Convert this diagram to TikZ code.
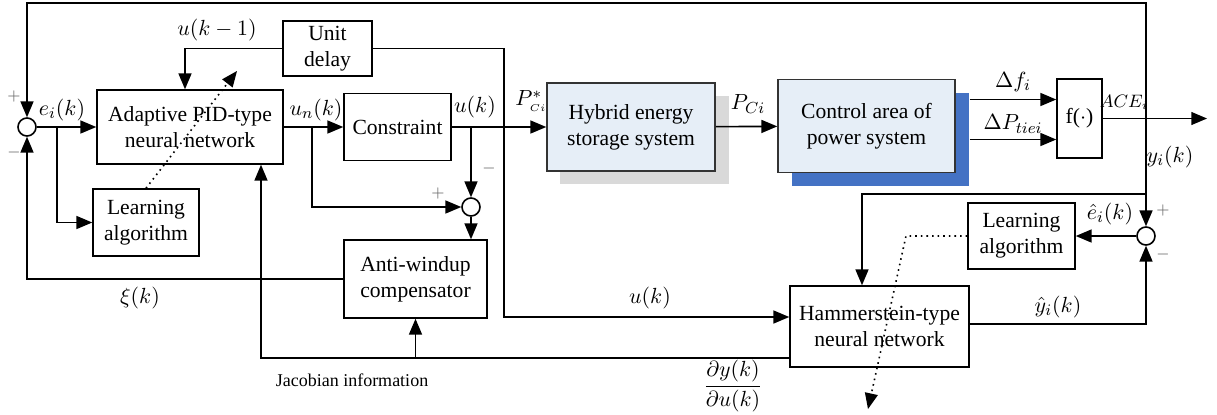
\documentclass[tikz,border=0pt]{standalone}
\usepackage{fontspec}
\setmainfont{Liberation Serif}
\usepackage{tikz}
\usetikzlibrary{arrows,positioning}
\definecolor{boxfill}{RGB}{230,238,247}
\definecolor{blueshadow}{RGB}{68,114,196}
\definecolor{grayshadow}{RGB}{217,217,217}

\begin{document}
\begin{tikzpicture}[->,>=triangle 45,thick,x=0.5pt,y=-0.5pt,
                    font=\rmfamily\fontsize{10.8}{13}\selectfont]
  \tikzstyle{block}=[draw,align=center,inner sep=0pt]
  \tikzstyle{sum}=[draw,circle,minimum size=9pt,inner sep=0pt]
  \tikzstyle{sign}=[font=\footnotesize,text=black!60]
  \useasboundingbox (0,0) rectangle (1217,414);

  \fill[grayshadow] (560,96) rectangle (729,184);
  \node[fill=blueshadow,minimum width=88.5pt,minimum height=46.5pt,inner sep=0pt]
       (CAs) at (880.5,139.5) {};

  \node[sum]   (S1)   at (27,127) {};
  \node[block,minimum width=93pt,minimum height=37pt]   (APID) at (190,127)
       {Adaptive PID-type\\neural network};
  \node[block,minimum width=44.5pt,minimum height=27.5pt] (UD) at (327.5,48.5)
       {Unit\\delay};
  \node[block,minimum width=53pt,minimum height=33.5pt] (LA1) at (146,222.5)
       {Learning\\algorithm};
  \node[block,minimum width=53.5pt,minimum height=33.5pt] (CON) at (397.5,127)
       {Constraint};
  \node[sum]   (S3)   at (471,207) {};
  \node[block,minimum width=71.5pt,minimum height=39pt] (AW) at (415.5,279)
       {Anti-windup\\compensator};
  \node[block,fill=boxfill,draw=black!80,minimum width=84pt,minimum height=44pt]
       (HES) at (631,127) {Hybrid energy\\storage system};
  \node[block,fill=boxfill,draw=black!80,minimum width=88.5pt,minimum height=46.5pt]
       (CA) at (866.5,126) {Control area of\\power system};
  \node[block,minimum width=22.5pt,minimum height=39.5pt] (FF) at (1079.5,118.5)
       {f($\cdot$)};
  \node[block,minimum width=89.5pt,minimum height=40.5pt] (HNN) at (879.5,326.5)
       {Hammerstein-type\\neural network};
  \node[block,minimum width=53.5pt,minimum height=33pt] (LA2) at (1021.5,236)
       {Learning\\algorithm};
  \node[sum]   (S2)   at (1146,236) {};

  \coordinate (b1) at (57,127);
  \coordinate (b2) at (312,127);
  \coordinate (b3) at (471,127);
  \coordinate (b4) at (504,127);
  \coordinate (b5) at (1146,118.5);
  \coordinate (b6) at (1146,194);
  \coordinate (b7) at (415.5,358);
  \coordinate (tr) at (1146,3);
  \coordinate (out) at (1207,118.5);
  \coordinate (fa) at ([yshift=9.5pt]FF.west);
  \coordinate (fb) at ([yshift=-10.5pt]FF.west);
  \coordinate (d1) at (906,236);
  \coordinate (d2) at (868,409);
  \coordinate (d3) at (237,71);

  \draw (S1) -- (APID);
  \draw (b1) |- (LA1);
  \draw (APID) -- (CON);
  \draw (b2) |- (S3);
  \draw (CON) -- (HES);
  \draw (b3) -- (S3);
  \draw (S3) -- (S3 |- AW.north);
  \draw[-] (b4) |- (UD);
  \draw (UD) -| ([xshift=-2.5pt]APID.north);
  \draw (b4) |- ([yshift=4.75pt]HNN.west);
  \draw (HES) -- (CA);
  \draw (CAs.east |- fa) -- (fa);
  \draw (CAs.east |- fb) -- (fb);
  \draw (FF) -- (out);
  \draw (b5) -- (tr) -| (S1);
  \draw (b5) -- (S2);
  \draw (b6) -| ([xshift=-8.75pt]HNN.north);
  \draw (S2) -- (LA2);
  \draw ([yshift=1.25pt]HNN.east) -| (S2);
  \draw (AW) -| (S1);
  \draw ([yshift=-15.75pt]HNN.west) -| ([xshift=35.5pt]APID.south);
  \draw (b7) -- (AW);
  \draw[dotted] (LA1.north) -- (d3);
  \draw[dotted] (LA2.west) -- (d1) -- (d2);

  \node at (62,110)   {$e_i(k)$};
  \node at (217,30)   {$u(k-1)$};
  \node at (316,110)  {$u_n(k)$};
  \node at (475,107)  {$u(k)$};
  \node at (531,101)  {$P^*_{\scriptscriptstyle Ci}$};
  \node at (748,104)  {$P_{Ci}$};
  \node at (1013,82)  {$\Delta f_i$};
  \node at (1013,124) {$\Delta P_{tiei}$};
  \node[font=\small,inner sep=1pt] at (1124,102) {$ACE_i$};
  \node at (1170,157) {$y_i(k)$};
  \node at (1110,214) {$\hat{e}_i(k)$};
  \node at (1058,307) {$\hat{y}_i(k)$};
  \node at (650,298)  {$u(k)$};
  \node at (140,298)  {$\xi(k)$};
  \node[font=\small] at (352,380) {Jacobian information};
  \node at (733,386)  {$\displaystyle\frac{\partial y(k)}{\partial u(k)}$};
  \node[sign] at (14,96)    {$+$};
  \node[sign] at (14,152)   {$-$};
  \node[sign] at (438,193)  {$+$};
  \node[sign] at (489,168)  {$-$};
  \node[sign] at (1163,210) {$+$};
  \node[sign] at (1163,254) {$-$};
\end{tikzpicture}
\end{document}
